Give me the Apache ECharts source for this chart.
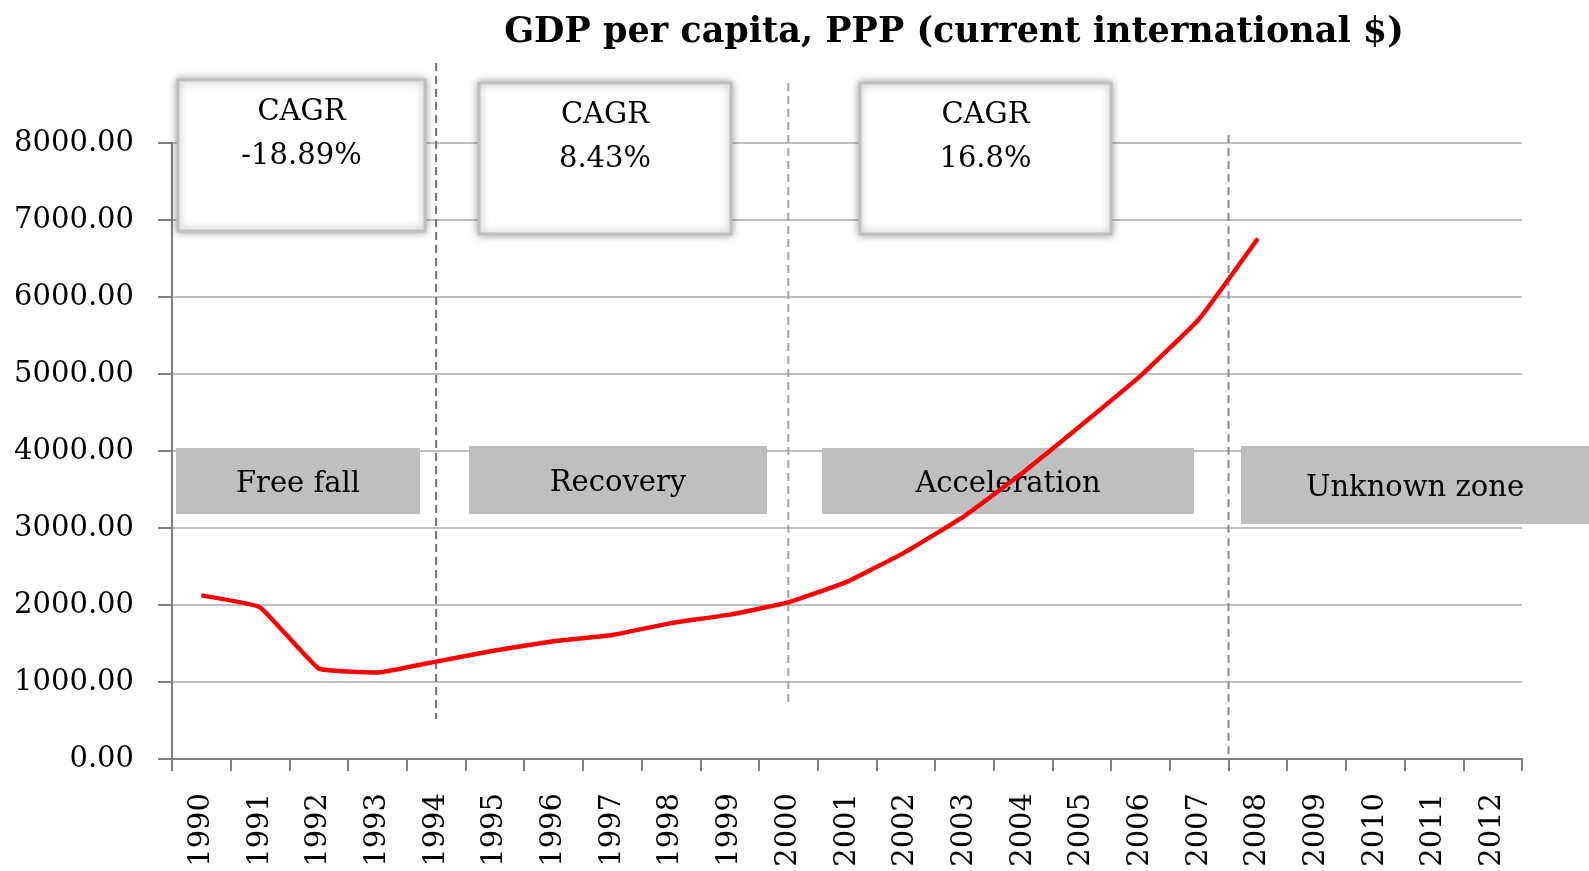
<!DOCTYPE html>
<html>
<head>
<meta charset="utf-8">
<script src="https://cdn.jsdelivr.net/npm/echarts@6/dist/echarts.min.js"></script>
<style>
  html, body { margin: 0; padding: 0; background: #fff; }
  #myChart { width: 1589px; height: 871px; }
</style>
</head>
<body>
<div id="myChart"></div>
<script>
  // 数据
  const years = ['1990', '1991', '1992', '1993', '1994', '1995', '1996', '1997', '1998', '1999', '2000', '2001',
    '2002', '2003', '2004', '2005', '2006', '2007', '2008', '2009', '2010', '2011', '2012']
  const gdp = [2125, 1970, 1175, 1122, 1265, 1410, 1530, 1610, 1765, 1875, 2035, 2300,
    2690, 3155, 3720, 4340, 4975, 5715, 6760, null, null, null, null]
  const yTicks = { min: 0, max: 8000, interval: 1000 }
  const cagr = ['-18.89%', '8.43%', '16.8%']
  const phases = ['Free fall', 'Recovery', 'Acceleration', 'Unknown zone']

  const serif = "'DejaVu Serif', serif"

  let myChart = echarts.init(document.getElementById('myChart'))
  myChart.setOption({
    animation: false,
    title: {
      text: 'GDP per capita, PPP (current international $)',
      left: 949,
      top: 10,
      textAlign: 'center',
      textStyle: { fontFamily: serif, fontSize: 35, fontWeight: 'bold', color: '#000' }
    },
    grid: { left: 172, right: 67, top: 143, bottom: 112 },
    xAxis: {
      type: 'category',
      data: years,
      boundaryGap: true,
      axisLine: { lineStyle: { color: '#808080', width: 2 } },
      axisTick: { show: true, length: 12, lineStyle: { color: '#808080', width: 2 } },
      axisLabel: { rotate: 90, interval: 0, margin: 34, fontFamily: serif, fontSize: 29, color: '#000' }
    },
    yAxis: {
      type: 'value',
      min: yTicks.min,
      max: yTicks.max,
      interval: yTicks.interval,
      axisLine: { show: true, lineStyle: { color: '#808080', width: 2 } },
      axisTick: { show: true, inside: false, length: 14, lineStyle: { color: '#808080', width: 2 } },
      axisLabel: { margin: 38, fontFamily: serif, fontSize: 29, color: '#000', formatter: v => v.toFixed(2) },
      splitLine: { lineStyle: { color: '#bfbfbf', width: 2 } }
    },
    series: [
      {
        name: 'GDP per capita',
        type: 'line',
        data: gdp,
        smooth: 0.1,
        showSymbol: false,
        z: 5,
        lineStyle: { color: '#ff0000', width: 4.5 }
      }
    ]
  })

  // 注释：方框、阶段、虚线
  const px = c => myChart.convertToPixel({ xAxisIndex: 0 }, c)
  const cagrBoxes = [[178, 80, 247, 151], [479, 83, 252, 151], [860, 83, 251, 151]]
  const phaseBoxes = [[176, 448, 244, 66], [469, 446, 298, 68], [822, 448, 372, 66], [1241, 446, 348, 78]]
  const dashX = [px('1994'), px('2000'), (px('2007') + px('2008')) / 2]
  const dashY = [[63, 719], [83, 704], [135, 755]]
  const dashColor = ['#707070', '#a6a6a6', '#8c8c8c']

  let graphic = []
  cagrBoxes.forEach((b, i) => {
    graphic.push({
      type: 'rect', z: 10,
      shape: { x: b[0], y: b[1], width: b[2], height: b[3] },
      style: { fill: '#fff', stroke: '#bfbfbf', lineWidth: 3, shadowBlur: 8, shadowColor: 'rgba(0,0,0,0.35)' }
    })
    graphic.push({
      type: 'text', z: 11,
      style: { text: 'CAGR\n' + cagr[i], x: b[0] + b[2] / 2, y: b[1] + 10, align: 'center', verticalAlign: 'top',
        font: '29px ' + serif, lineHeight: 44, fill: '#000' }
    })
  })
  phaseBoxes.forEach((b, i) => {
    graphic.push({
      type: 'rect', z: 1,
      shape: { x: b[0], y: b[1], width: b[2], height: b[3] },
      style: { fill: '#bfbfbf' }
    })
    graphic.push({
      type: 'text', z: 1,
      style: { text: phases[i], x: b[0] + b[2] / 2, y: b[1] + b[3] / 2 + 3, align: 'center', verticalAlign: 'middle',
        font: '29px ' + serif, fill: '#000' }
    })
  })
  dashX.forEach((x, i) => {
    graphic.push({
      type: 'line', z: 4,
      shape: { x1: x, y1: dashY[i][0], x2: x, y2: dashY[i][1] },
      style: { stroke: dashColor[i], lineWidth: 2, lineDash: [8, 5] }
    })
  })
  myChart.setOption({ graphic: graphic })
</script>
</body>
</html>
